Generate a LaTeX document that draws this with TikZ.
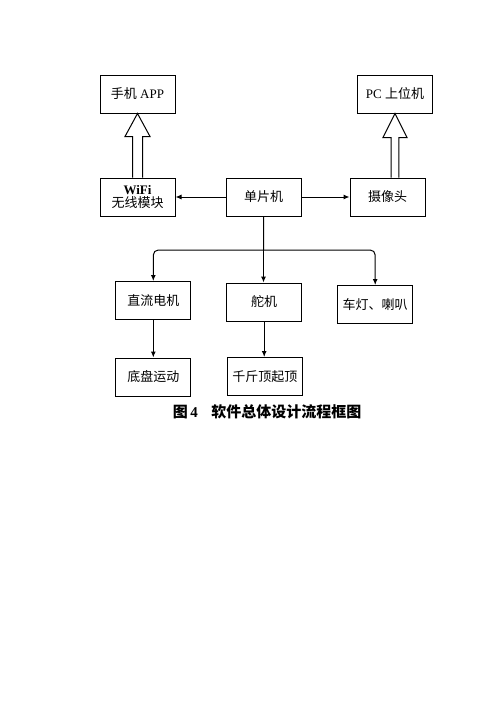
\documentclass[tikz,border=0pt]{standalone}
\usepackage{fontspec}
\setmainfont{Liberation Serif}
\newfontfamily\cjk{Noto Sans CJK SC}
\usetikzlibrary{arrows.meta,calc}
\begin{document}
\begin{tikzpicture}[x=1pt,y=-1pt,
  box/.style={draw, line width=1pt, minimum width=75pt, minimum height=38pt, inner sep=1pt, align=center, font=\fontsize{13pt}{15pt}\selectfont},
  conn/.style={line width=1pt, -{Latex[length=6pt,width=5pt]}},
  hollow/.style={draw, line width=1pt, fill=white, line join=miter}]
\useasboundingbox (0,0) rectangle (500,707);
\node[box] (app) at (137.5,94) {{\cjk 手机} APP};
\node[box] (pc) at (395,94) {PC {\cjk 上位机}};
\node[box] (wifi) at (137.5,197) {\textbf{WiFi}\\[-2pt]{\cjk 无线模块}};
\node[box] (mcu) at (263.7,197) {\cjk 单片机};
\node[box] (cam) at (387.5,197) {\cjk 摄像头};
\node[box] (dc) at (153.3,300.5) {\cjk 直流电机};
\node[box] (duo) at (264.2,302) {\cjk 舵机};
\node[box] (light) at (375.2,304.5) {\cjk 车灯、喇叭};
\node[box] (chassis) at (153.3,377) {\cjk 底盘运动};
\node[box] (jack) at (264.8,376.5) {\cjk 千斤顶起顶};
\node[font=\fontsize{15pt}{17pt}\selectfont\bfseries] (cap) at (267,412) {{\cjk 图}\,4\hspace{0.9em}{\cjk 软件总体设计流程框图}};
% hollow arrows
\draw[hollow] ($(wifi.north)+(-5,0)$) -- ($(wifi.north)+(-5,-41)$) -- ($(wifi.north)+(-12.5,-41)$) -- (app.south) -- ($(wifi.north)+(12.5,-41)$) -- ($(wifi.north)+(5,-41)$) -- ($(wifi.north)+(5,0)$);
\coordinate (pcb) at (pc.south);
\coordinate (camt) at (pc.south |- cam.north);
\draw[hollow] ($(camt)+(-3.8,0)$) -- ($(camt)+(-3.8,-40)$) -- ($(camt)+(-12,-40)$) -- (pcb) -- ($(camt)+(12,-40)$) -- ($(camt)+(3.8,-40)$) -- ($(camt)+(3.8,0)$);
% horizontal arrows
\draw[conn] (mcu.west) -- (wifi.east);
\draw[conn] (mcu.east) -- (cam.east -| cam.west);
% tree
\coordinate (j) at (263.5,250);
\draw[line width=1pt] (mcu.south) -- (j);
\draw[conn, rounded corners=5pt] (j) -| (dc.north);
\draw[conn] (j) -- (j |- duo.north);
\draw[conn, rounded corners=5pt] (j) -| (light.north);
\draw[conn] (dc.south) -- (chassis.north);
\draw[conn] (duo.south) -- (duo.south |- jack.north);
\end{tikzpicture}
\end{document}
